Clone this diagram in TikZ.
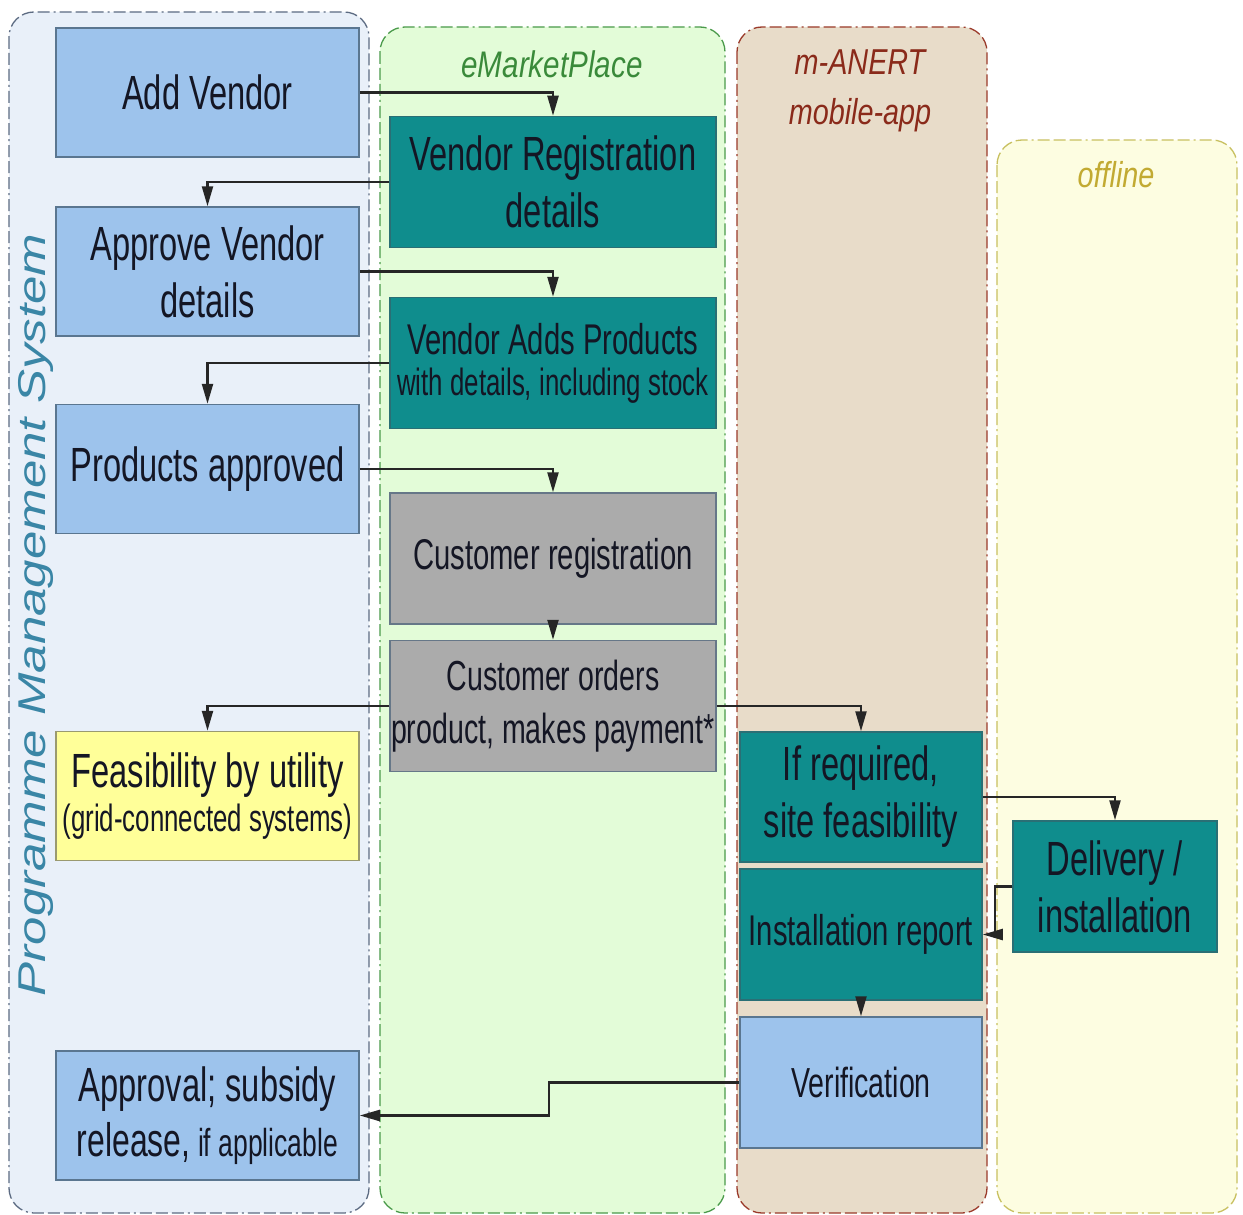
\documentclass[tikz,border=0pt]{standalone}
\usepackage{fontspec}
\setmainfont{Liberation Sans}[FakeStretch=0.68]
\newfontfamily\titlefont{Liberation Sans}[FakeStretch=0.8]
\newfontfamily\pmsfont{Liberation Sans}
\usetikzlibrary{arrows.meta}
\definecolor{pmsfill}{HTML}{E9F0F9}
\definecolor{pmsline}{HTML}{5C6B82}
\definecolor{emfill}{HTML}{E3FCD8}
\definecolor{emline}{HTML}{4A9A4A}
\definecolor{mafill}{HTML}{E8DCC9}
\definecolor{maline}{HTML}{9A3A2A}
\definecolor{offfill}{HTML}{FDFDE1}
\definecolor{offline}{HTML}{C8C060}
\definecolor{bluefill}{HTML}{9DC3EC}
\definecolor{blueline}{HTML}{5A7690}
\definecolor{tealfill}{HTML}{0F8D8D}
\definecolor{tealline}{HTML}{2A6F75}
\definecolor{grayfill}{HTML}{ABABAB}
\definecolor{grayline}{HTML}{667788}
\definecolor{yelfill}{HTML}{FFFF99}
\definecolor{yelline}{HTML}{9A9A70}
\definecolor{txt}{HTML}{141624}
\definecolor{pmstxt}{HTML}{3A86A6}
\definecolor{emtxt}{HTML}{3A8A3A}
\definecolor{matxt}{HTML}{8A2A1A}
\definecolor{offtxt}{HTML}{C2AA32}
\tikzset{
  frame/.style={rounded corners=25pt, line width=1.3pt,
    dash pattern=on 12pt off 4pt on 12pt off 4pt on 12pt off 4pt on 2pt off 4pt},
  boxbase/.style={rectangle, line width=1.5pt, text=txt, align=center, inner sep=0pt},
  bluebox/.style={boxbase, fill=bluefill, draw=blueline},
  tealbox/.style={boxbase, fill=tealfill, draw=tealline},
  graybox/.style={boxbase, fill=grayfill, draw=grayline},
  yelbox/.style={boxbase, fill=yelfill, draw=yelline},
  wide/.style={minimum width=303pt, minimum height=129pt},
  mid/.style={minimum width=326pt, minimum height=131pt},
  conn/.style={line width=2.3pt, draw=black!85, -{Triangle[length=20pt,width=11pt]}},
  big/.style={font=\fontsize{48}{57}\selectfont},
  med/.style={font=\fontsize{43}{53}\selectfont},
}
\begin{document}
\begin{tikzpicture}[x=1pt,y=-1pt]
\useasboundingbox (0,0) rectangle (1243,1215);
\fill[white] (0,0) rectangle (1243,1215);
% containers
\draw[frame, fill=pmsfill, draw=pmsline] (9,12) rectangle (369,1213);
\draw[frame, fill=emfill, draw=emline] (380,27) rectangle (725,1213);
\draw[frame, fill=mafill, draw=maline] (737,27) rectangle (987,1213);
\draw[frame, fill=offfill, draw=offline] (997,140) rectangle (1237,1213);
% container titles
\node[rotate=90, text=pmstxt, font=\pmsfont\itshape\fontsize{51}{60}\selectfont] (pmstitle) at (36,615) {\scalebox{1}[0.76]{Programme Management System}};
\node[text=emtxt, font=\titlefont\itshape\fontsize{37}{40}\selectfont] (emtitle) at (552,64) {eMarketPlace};
\node[text=matxt, font=\titlefont\itshape\fontsize{36}{50}\selectfont, align=center] (matitle) at (860,91) {m-ANERT\\mobile-app};
\node[text=offtxt, font=\titlefont\itshape\fontsize{36}{40}\selectfont] (offtitle) at (1116,175) {offline};
% boxes
\node[bluebox, wide, big] (addv) at (207.5,92.5) {Add Vendor};
\node[tealbox, mid, big] (vreg) at (553,182) {Vendor Registration\\details};
\node[bluebox, wide, big] (appv) at (207.5,271.5) {Approve Vendor\\details};
\node[tealbox, mid, font=\fontsize{38}{41}\selectfont] (vap) at (553,363) {{\fontsize{43}{46}\selectfont Vendor Adds Products}\\{with details, including stock}};
\node[bluebox, wide, big] (papp) at (207.5,469) {Products approved};
\node[graybox, mid, med] (creg) at (553,558.5) {Customer registration};
\node[graybox, mid, font=\fontsize{42}{53}\selectfont] (cord) at (553,706) {Customer orders\\product, makes payment*};
\node[yelbox, wide, font=\fontsize{38}{44}\selectfont] (feas) at (207.5,796) {{\fontsize{48}{50}\selectfont Feasibility by utility}\\{(grid-connected systems)}};
\node[tealbox, minimum width=242pt, minimum height=130pt, big] (sitef) at (861,797) {If required,\\site feasibility};
\node[tealbox, minimum width=204pt, minimum height=131pt, big] (deliv) at (1115,886.5) {Delivery /\\installation};
\node[tealbox, minimum width=242pt, minimum height=131pt, med] (instr) at (861,934.5) {Installation report};
\node[bluebox, minimum width=242pt, minimum height=131pt, font=\fontsize{42}{50}\selectfont] (verif) at (861,1082.5) {Verification};
\node[bluebox, wide, font=\fontsize{39}{55}\selectfont] (appr) at (207.5,1115.5) {{\fontsize{48}{50}\selectfont Approval; subsidy}\\{\fontsize{47}{50}\selectfont release,} if applicable};
% connectors
\draw[conn] (addv.east) -| (vreg.north);
\draw[conn] (vreg.west) -| (appv.north);
\draw[conn] (appv.east) -| (vap.north);
\draw[conn] (vap.west) -| (papp.north);
\draw[conn] (papp.east) -| (creg.north);
\draw[conn] (creg.south) -- (cord.north);
\draw[conn] (cord.west) -| (feas.north);
\draw[conn] (cord.east) -| (sitef.north);
\draw[conn] (sitef.east) -| (deliv.north);
\draw[conn] (deliv.west) -- ++(-17,0) |- (instr.east);
\draw[conn] (instr.south) -- (verif.north);
\draw[conn] (verif.west) -- ++(-190,0) |- (appr.east);
\end{tikzpicture}
\end{document}
